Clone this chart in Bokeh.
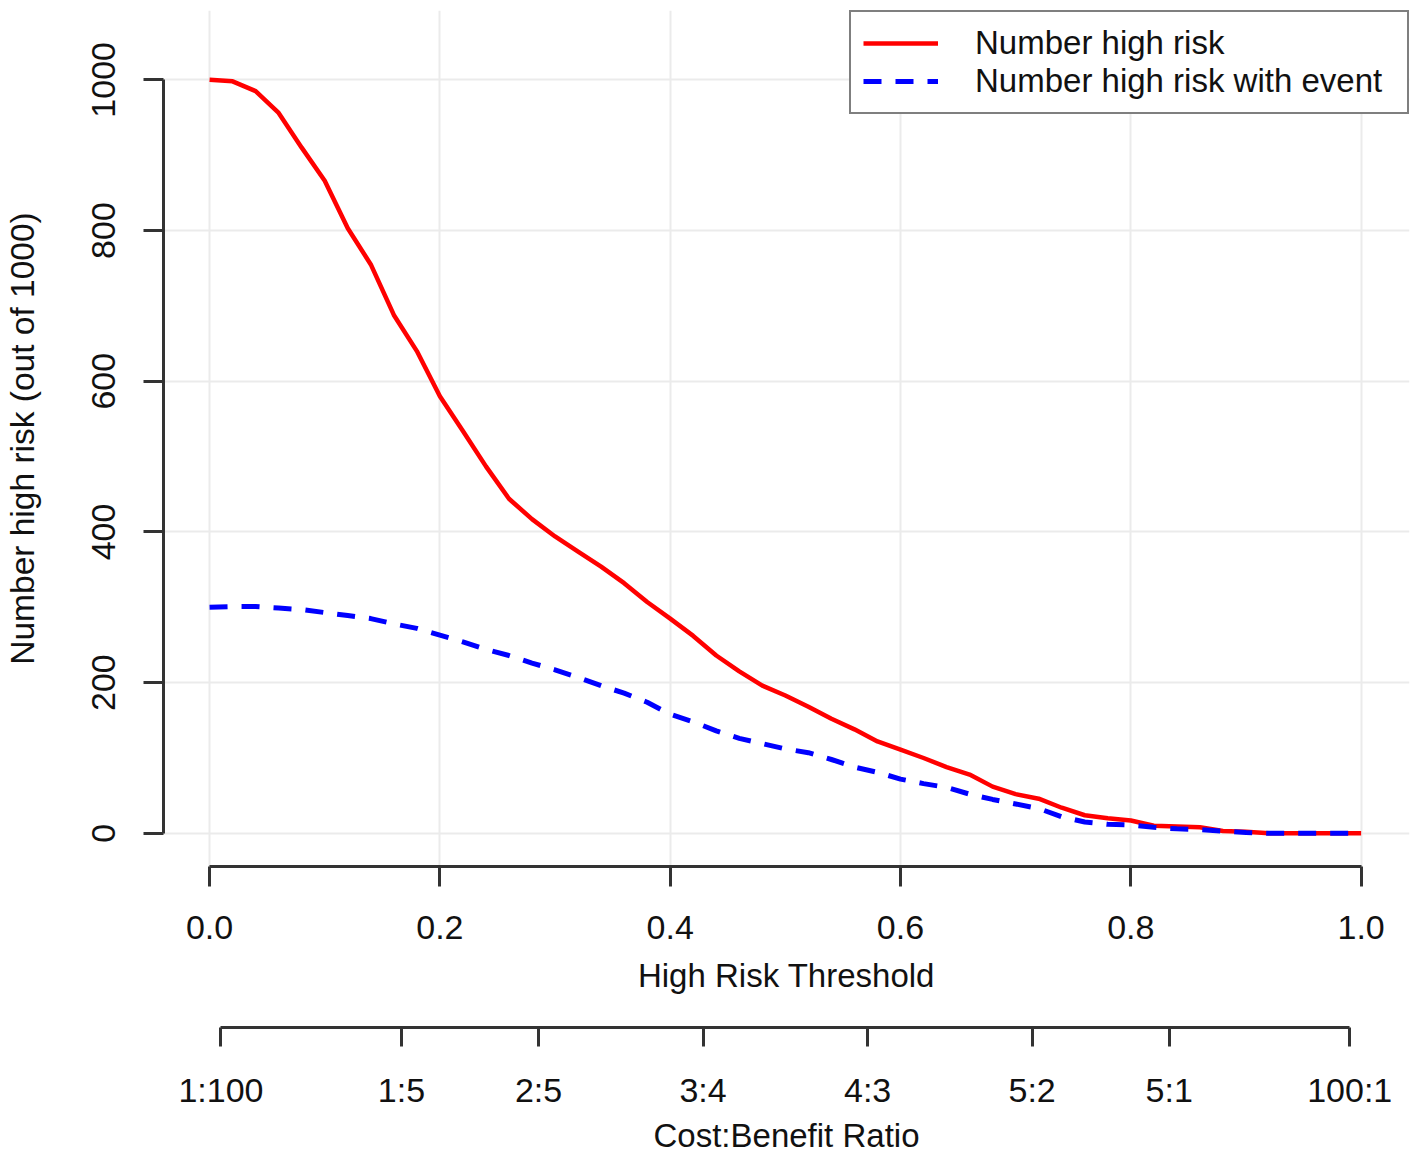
from bokeh.plotting import figure
from bokeh.models import (Range1d, LinearAxis, FixedTicker, Legend, LegendItem,
                          ColumnDataSource)
from bokeh.embed import file_html
from bokeh.resources import INLINE

# ---- data ----
threshold = [0.00, 0.02, 0.04, 0.06, 0.08, 0.10, 0.12, 0.14, 0.16, 0.18,
             0.20, 0.22, 0.24, 0.26, 0.28, 0.30, 0.32, 0.34, 0.36, 0.38,
             0.40, 0.42, 0.44, 0.46, 0.48, 0.50, 0.52, 0.54, 0.56, 0.58,
             0.60, 0.62, 0.64, 0.66, 0.68, 0.70, 0.72, 0.74, 0.76, 0.78,
             0.80, 0.82, 0.84, 0.86, 0.88, 0.90, 0.92, 0.94, 0.96, 0.98, 1.00]
n_high_risk = [1000, 998, 985, 956, 910, 866, 803, 755, 688, 640,
               580, 534, 487, 444, 417, 394, 374, 354, 332, 307,
               285, 262, 236, 215, 196, 183, 168, 152, 138, 122,
               111, 100, 88, 78, 62, 52, 46, 34, 24, 20,
               17, 10, 9, 8, 3, 2, 0, 0, 0, 0, 0]
n_high_risk_event = [300, 301, 301, 299, 297, 293, 289, 285, 278, 272,
                     263, 254, 244, 236, 226, 217, 207, 196, 186, 174,
                     158, 148, 136, 126, 119, 112, 107, 98, 88, 81,
                     72, 66, 61, 52, 45, 39, 33, 22, 15, 12,
                     11, 8, 6, 5, 3, 1, 0, 0, 0, 0, 0]

x_ticks = [0.0, 0.2, 0.4, 0.6, 0.8, 1.0]
x_tick_labels = ["0.0", "0.2", "0.4", "0.6", "0.8", "1.0"]
y_ticks = [0, 200, 400, 600, 800, 1000]
cost = [1, 1, 2, 3, 4, 5, 5, 100]
benefit = [100, 5, 5, 4, 3, 2, 1, 1]
cb_labels = ["1:100", "1:5", "2:5", "3:4", "4:3", "5:2", "5:1", "100:1"]

FONT = "Liberation Sans"
AXIS_COLOR = "#333333"
GRID_COLOR = "#EBEBEB"

cb_pos = [c / (c + b) for c, b in zip(cost, benefit)]

p = figure(width=1418, height=1156,
           x_range=Range1d(-0.04, 1.042), y_range=Range1d(-44, 1092),
           output_backend="svg", toolbar_location=None,
           min_border_left=162, min_border_right=9, min_border_top=10,
           min_border_bottom=290)
p.outline_line_color = None
p.background_fill_color = "white"

# grid
p.xgrid.ticker = FixedTicker(ticks=x_ticks)
p.ygrid.ticker = FixedTicker(ticks=y_ticks)
for g in (p.xgrid[0], p.ygrid[0]):
    g.grid_line_color = GRID_COLOR
    g.grid_line_width = 2


def style_axis(ax, tick_font="34px", label_font="33px"):
    ax.axis_line_color = AXIS_COLOR
    ax.axis_line_width = 3
    ax.major_tick_line_color = AXIS_COLOR
    ax.major_tick_line_width = 3
    ax.major_tick_in = 0
    ax.minor_tick_in = 0
    ax.minor_tick_out = 0
    ax.minor_tick_line_color = None
    ax.major_label_text_font = FONT
    ax.major_label_text_font_size = tick_font
    ax.major_label_text_color = "#111111"
    ax.axis_label_text_font = FONT
    ax.axis_label_text_font_size = label_font
    ax.axis_label_text_font_style = "normal"
    ax.axis_label_text_color = "#111111"


# x axis (threshold)
xa = p.xaxis[0]
xa.ticker = FixedTicker(ticks=x_ticks)
xa.major_label_overrides = {t: l for t, l in zip(x_ticks, x_tick_labels)}
xa.bounds = (x_ticks[0], x_ticks[-1])
xa.axis_label = "High Risk Threshold"
style_axis(xa)
xa.major_tick_out = 20
xa.major_label_standoff = 29
xa.axis_label_standoff = 15

# invisible spacer between the two bottom axes (one white tick, no label)
spacer = LinearAxis(ticker=FixedTicker(ticks=[0.5]), axis_line_color=None,
                    major_tick_line_color="white", major_tick_line_width=1,
                    minor_tick_line_color=None,
                    major_tick_out=31, major_tick_in=0, minor_tick_out=0,
                    minor_tick_in=0, major_label_overrides={0.5: ""},
                    major_label_text_font_size="0px", major_label_standoff=0,
                    major_label_text_color=None)
p.add_layout(spacer, "below")

# cost:benefit axis
cba = LinearAxis(ticker=FixedTicker(ticks=cb_pos))
cba.major_label_overrides = {t: l for t, l in zip(cb_pos, cb_labels)}
cba.bounds = (cb_pos[0], cb_pos[-1])
cba.axis_label = "Cost:Benefit Ratio"
style_axis(cba)
cba.major_tick_out = 19
cba.major_label_standoff = 24
cba.axis_label_standoff = 5
p.add_layout(cba, "below")

# y axis
ya = p.yaxis[0]
ya.ticker = FixedTicker(ticks=y_ticks)
ya.bounds = (y_ticks[0], y_ticks[-1])
ya.axis_label = "Number high risk (out of 1000)"
ya.major_label_orientation = "vertical"
style_axis(ya, label_font="33.5px")
ya.major_tick_out = 20
ya.major_label_standoff = 28
ya.axis_label_standoff = 49

src = ColumnDataSource(dict(t=threshold, n=n_high_risk, e=n_high_risk_event))
r1 = p.line("t", "n", source=src, line_color="#FF0000", line_width=4.5)
r2 = p.line("t", "e", source=src, line_color="#0000FF", line_width=5,
            line_dash="18 14")

legend = Legend(items=[LegendItem(label="Number high risk", renderers=[r1]),
                       LegendItem(label="Number high risk with event", renderers=[r2])],
                location="top_right", margin=0, padding=12, spacing=0,
                glyph_width=75, label_standoff=37, label_width=420,
                label_text_font=FONT, label_text_font_size="33px",
                label_text_color="#111111",
                border_line_color="#000000", border_line_width=2,
                background_fill_color="white", background_fill_alpha=1)
p.add_layout(legend)

open("out.html", "w").write(file_html(p, INLINE))
